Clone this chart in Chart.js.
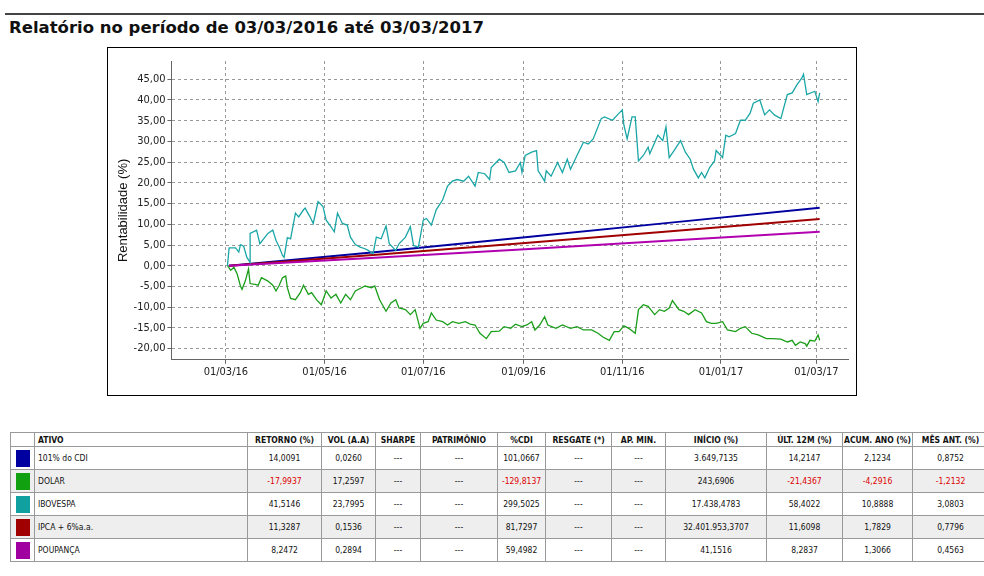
<!DOCTYPE html>
<html><head><meta charset="utf-8">
<script src="https://cdn.jsdelivr.net/npm/chart.js@4/dist/chart.umd.min.js"></script>
<style>
body{margin:0;background:#fff;width:984px;height:576px;position:relative;font-family:"DejaVu Sans",sans-serif;overflow:hidden}
#topline{position:absolute;left:5px;top:13px;width:979px;height:2px;background:#444}
#title{position:absolute;left:9px;top:18px;font-size:16.5px;font-weight:bold;color:#111}
#box{position:absolute;left:107px;top:47px;width:748px;height:347px;border:1px solid #000}
table{position:absolute;left:10px;top:432px;border-collapse:collapse;font-size:8.5px;font-family:"DejaVu Sans Condensed","DejaVu Sans",sans-serif;color:#111;table-layout:fixed;width:962px}
td,th{border:1px solid #999;text-align:center;padding:0;overflow:hidden;white-space:nowrap}
th{height:13px;font-weight:bold}
td{height:22px}
.l{text-align:left;padding-left:3px}
.g td{background:#eee}
.r{color:#d00}
.sw{display:block;width:14px;height:17px;margin:0 auto}
</style></head><body>
<div id="topline"></div>
<div id="title">Relatório no período de 03/03/2016 até 03/03/2017</div>
<div id="box"><canvas id="c" width="748" height="347"></canvas></div>
<table id="t"></table>
<script>
const xTickDays=[0,61,122,184,245,306,365];
const xTickLabels=["01/03/16","01/05/16","01/07/16","01/09/16","01/11/16","01/01/17","01/03/17"];
const yTicks=[-20,-15,-10,-5,0,5,10,15,20,25,30,35,40,45];
const lineDays=[2,95,185,275,367];
const cdi=[0,3.4,6.9,10.4,14.0];
const ipca=[0,2.7,5.5,8.3,11.3];
const poup=[0,2.0,4.0,6.1,8.2];
const iboDays=[1,2,6,8,9,11,13,15,15,19,21,26,29,31,33,35,36,38,40,43,45,48,49,52,54,57,60,62,65,67,69,72,75,77,80,83,86,88,91,93,96,99,101,105,107,111,114,116,119,122,124,127,130,134,137,140,143,147,150,154,156,160,163,164,169,172,175,179,182,183,185,189,192,193,197,198,201,205,208,211,213,217,221,224,227,232,234,239,242,245,246,248,251,253,255,258,261,262,267,270,272,274,277,281,284,287,289,292,294,296,299,302,303,307,309,311,315,318,321,324,326,330,333,336,339,343,347,350,353,356,357,359,364,366,367];
const ibo=[0,4.3,4.3,3.3,5.1,4.7,2,0.8,7.8,8.6,5.3,7.8,8.6,6.1,4.5,2.5,2,6.8,6.5,12.7,11.8,13.5,13.9,11.8,10.2,15.5,14.3,11,9.4,8.2,12.7,10.2,9.8,6.9,5.1,4.5,4.1,3.7,2.9,6.9,6.5,9.6,5.3,3.7,5.3,6.9,9.4,4.9,4.5,11,11.4,9.8,13.5,15.9,19.2,20.4,20.8,20.4,21.6,19.2,22.5,22.2,20.8,23.7,25.7,24.9,22.5,22.9,24.9,22.5,26.6,27.4,27.8,22.9,20.4,22.9,21.6,24.9,22.5,25.7,23.3,26.6,29.8,29.4,30.6,35.5,35.9,35.1,36.4,37.6,33.9,30.6,35.9,35.9,25.3,26.6,28.6,27,31.5,30.2,33.5,26.1,27.8,30.2,27.4,25.7,23.3,21.2,22.5,21.2,23.7,25.3,27.8,26.1,31.5,31.1,31.9,35.1,35.1,36.8,39.2,40,36.4,37.6,36.4,35.5,41.3,41.7,43.7,45.3,46.2,41.3,42.1,39.6,41.7];
const dolDays=[1,3,5,7,9,10,12,14,15,18,20,22,26,29,31,33,35,37,38,40,43,46,48,51,53,56,59,62,65,68,71,74,77,80,83,86,90,92,95,99,102,105,107,111,114,117,120,122,125,127,130,134,137,140,144,148,151,154,157,161,164,169,172,176,179,183,186,189,191,194,197,199,204,208,213,217,221,226,230,233,237,240,243,246,249,253,255,258,261,265,268,271,274,276,280,283,286,290,294,297,300,303,307,310,315,318,321,325,329,334,338,343,347,350,352,355,358,359,361,364,366,367];
const dol=[0,-1.1,-0.4,-2,-4.9,-5.7,-3.7,-0.8,-4.3,-4.5,-4.7,-2.9,-3.7,-4.7,-6.1,-4.7,-2.9,-2.5,-5.3,-7.9,-8.2,-6.5,-4.7,-6.9,-6.5,-8.2,-9.4,-6.1,-7.8,-6.9,-9,-6.9,-8.2,-6.1,-5.5,-4.9,-5.3,-4.9,-8.2,-11,-9,-8.2,-10.2,-10.6,-11.8,-10.6,-15.1,-13.9,-13.5,-11.4,-13.1,-13.5,-14.3,-13.5,-13.9,-13.5,-14.1,-14.3,-16.3,-17.6,-15.9,-15.8,-14.7,-15.1,-14.1,-14.7,-14.3,-13.5,-15.5,-14.3,-12.3,-14.3,-15.1,-14.3,-15.1,-14.7,-15.5,-15.5,-16.3,-17.2,-18,-15.9,-15.9,-14.5,-15.1,-16.3,-10.6,-9.4,-9.8,-11.8,-10.6,-11,-10.2,-8.4,-10.6,-11,-11.8,-10.6,-11.4,-13.5,-13.9,-13.9,-13.5,-15.5,-15.9,-15.1,-14.7,-16.3,-16.7,-17.6,-17.6,-17.7,-18.4,-18,-19.2,-18.4,-18.8,-19.4,-18,-18.2,-16.7,-18];
const pts=(d,v)=>d.map((x,i)=>({x:x,y:v[i]}));
const ds=(label,d,v,color,w)=>({label,data:pts(d,v),borderColor:color,borderWidth:w,pointRadius:0,tension:0});
new Chart(document.getElementById('c'),{type:'line',
data:{datasets:[ds('IBOVESPA',iboDays,ibo,'#1aa6a6',1.3),ds('DOLAR',dolDays,dol,'#1a9e1a',1.3),ds('POUPANÇA',lineDays,poup,'#b000b0',2),ds('IPCA + 6%a.a.',lineDays,ipca,'#a00000',2),ds('101% do CDI',lineDays,cdi,'#0000a0',2)]},
options:{responsive:false,animation:false,layout:{padding:{left:8,top:13,right:8,bottom:14}},
plugins:{legend:{display:false},tooltip:{enabled:false}},
scales:{x:{type:'linear',min:-33.6,max:384.5,afterBuildTicks:a=>{a.ticks=xTickDays.map(v=>({value:v}));},
ticks:{autoSkip:false,maxRotation:0,padding:2,color:'#222',font:{size:11,family:'DejaVu Sans Condensed'},callback:(v)=>xTickLabels[xTickDays.indexOf(v)]},
grid:{color:'#999',tickColor:'#666',tickLength:4},border:{dash:[3,3],display:true,color:'#666'}},
y:{min:-22.7,max:49.4,afterBuildTicks:a=>{a.ticks=yTicks.map(v=>({value:v}));},
ticks:{padding:2,color:'#222',font:{size:11,family:'DejaVu Sans Condensed'},callback:v=>v.toFixed(2).replace('.',',')},
title:{display:true,text:'Rentabilidade (%)',color:'#111',padding:0,font:{size:13}},
grid:{color:'#999',tickColor:'#666',tickLength:4},border:{dash:[3,3],color:'#666'}}}}
});
const cols=["","ATIVO","RETORNO (%)","VOL (A.A)","SHARPE","PATRIMÔNIO","%CDI","RESGATE (*)","AP. MIN.","INÍCIO (%)","ÚLT. 12M (%)","ACUM. ANO (%)","MÊS ANT. (%)"];
const widths=[23,209,73,53,44,76,47,65,53,100,75,69,75];
const colors=["#0000a0","#10a010","#10a0a0","#a00000","#a000a0"];
const rows=[["101% do CDI","14,0091","0,0260","---","---","101,0667","---","---","3.649,7135","14,2147","2,1234","0,8752"],
["DOLAR","-17,9937","17,2597","---","---","-129,8137","---","---","243,6906","-21,4367","-4,2916","-1,2132"],
["IBOVESPA","41,5146","23,7995","---","---","299,5025","---","---","17.438,4783","58,4022","10,8888","3,0803"],
["IPCA + 6%a.a.","11,3287","0,1536","---","---","81,7297","---","---","32.401.953,3707","11,6098","1,7829","0,7796"],
["POUPANÇA","8,2472","0,2894","---","---","59,4982","---","---","41,1516","8,2837","1,3066","0,4563"]];
let h='<tr>'+cols.map((c,i)=>`<th style="width:${widths[i]}px" class="${i==1?'l':''}">${c}</th>`).join('')+'</tr>';
rows.forEach((r,k)=>{h+=`<tr class="${k%2?'g':''}"><td><span class="sw" style="background:${colors[k]}"></span></td>`+r.map((v,i)=>`<td class="${i==0?'l':''} ${v.startsWith('-')&&v!=='---'?'r':''}">${v}</td>`).join('')+'</tr>';});
document.getElementById('t').innerHTML=h;
</script></body></html>
